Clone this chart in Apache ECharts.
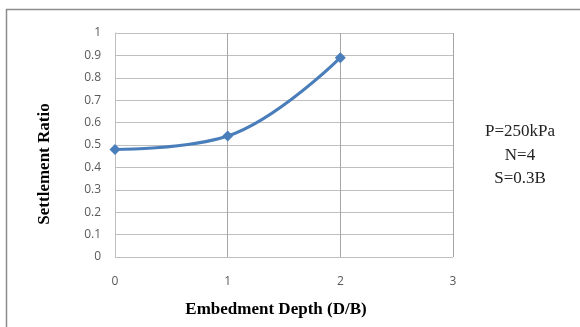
<!DOCTYPE html>
<html>
<head>
<meta charset="utf-8">
<script src="https://cdn.jsdelivr.net/npm/echarts@6/dist/echarts.min.js"></script>
<style>html,body{margin:0;padding:0;background:#fff;}#c{width:580px;height:327px;}</style>
</head>
<body>
<div id="c"></div>
<script>
const depths = [0, 1, 2];
const settlementRatio = [0.48, 0.54, 0.89];
const annotationLines = ['P=250kPa', 'N=4', 'S=0.3B'];
const xTitle = 'Embedment Depth (D/B)';
const yTitle = 'Settlement Ratio';

const chart = echarts.init(document.getElementById('c'));
chart.setOption({
  animation: false,
  backgroundColor: '#fff',
  grid: { left: 115, right: 127, top: 33, bottom: 70 },
  xAxis: {
    type: 'value', min: 0, max: 3, interval: 1,
    axisLine: { show: false },
    axisTick: { show: false },
    axisLabel: { margin: 19, color: '#595959', fontSize: 12, fontFamily: 'Open Sans' },
    splitLine: { show: true, lineStyle: { color: '#a6a6a6', width: 1 } }
  },
  yAxis: {
    type: 'value', min: 0, max: 1, interval: 0.1,
    axisLine: { show: true, lineStyle: { color: '#bfbfbf' } },
    axisTick: { show: false },
    axisLabel: { margin: 14, color: '#595959', fontSize: 12, fontFamily: 'Open Sans' },
    splitLine: { show: true, lineStyle: { color: '#bfbfbf', width: 1 } }
  },
  graphic: [
    { type: 'line', shape: { x1: 6, y1: 9.5, x2: 580, y2: 9.5 }, style: { stroke: '#8c8c8c', lineWidth: 1.5 } },
    { type: 'line', shape: { x1: 6.5, y1: 9, x2: 6.5, y2: 327 }, style: { stroke: '#8c8c8c', lineWidth: 1.5 } },
    { type: 'text', x: 45, y: 164, rotation: Math.PI / 2,
      style: { text: yTitle, font: 'bold 17px "Liberation Serif"', fill: '#000', align: 'center', verticalAlign: 'middle' } },
    { type: 'text', x: 276, y: 310,
      style: { text: xTitle, font: 'bold 17px "Liberation Serif"', fill: '#000', align: 'center', verticalAlign: 'middle' } },
    { type: 'text', x: 520, y: 132, style: { text: annotationLines[0], font: '17px "Liberation Serif"', fill: '#222', align: 'center', verticalAlign: 'middle' } },
    { type: 'text', x: 520, y: 156, style: { text: annotationLines[1], font: '17px "Liberation Serif"', fill: '#222', align: 'center', verticalAlign: 'middle' } },
    { type: 'text', x: 520, y: 179, style: { text: annotationLines[2], font: '17px "Liberation Serif"', fill: '#222', align: 'center', verticalAlign: 'middle' } }
  ],
  series: [{
    type: 'line',
    data: depths.map((d, i) => [d, settlementRatio[i]]),
    smooth: 0.4,
    symbol: 'diamond',
    symbolSize: 11,
    lineStyle: { color: '#4a7ebb', width: 3 },
    itemStyle: { color: '#4a7ebb' }
  }]
});
</script>
</body>
</html>
